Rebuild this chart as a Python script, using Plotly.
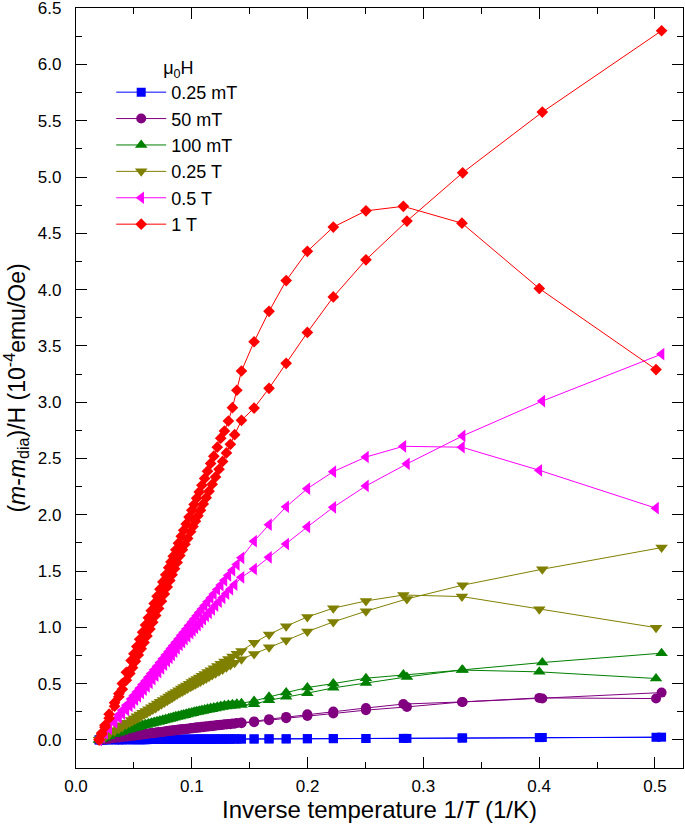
import plotly.graph_objects as go

# ---------------- data (x = inverse temperature 1/T in 1/K) ----------------
# branch A: curve with a maximum ; branch B: monotonic curve
X_A_HIGH = [0.5009, 0.4001, 0.3333, 0.2827, 0.2504, 0.2222, 0.1998, 0.1815, 0.1667, 0.1538]
X_B_HIGH = [0.5057, 0.4027, 0.3339, 0.2858, 0.2504, 0.2222, 0.1998, 0.1815, 0.1667, 0.1538]
X_A_DENSE = [0.1429, 0.1389, 0.1351, 0.1316, 0.1282, 0.1250, 0.1220, 0.1190, 0.1163, 0.1136,
             0.1111, 0.1087, 0.1064, 0.1042, 0.1020, 0.1000, 0.0976, 0.0952, 0.0930, 0.0909,
             0.0885, 0.0862, 0.0840, 0.0820, 0.0800, 0.0775, 0.0750, 0.0725, 0.0700, 0.0675,
             0.0650, 0.0625, 0.0600, 0.0575, 0.0550, 0.0525, 0.0500, 0.0476]
X_B_DENSE = [0.1429, 0.1370, 0.1333, 0.1299, 0.1266, 0.1235, 0.1205, 0.1176, 0.1149, 0.1124,
             0.1099, 0.1075, 0.1053, 0.1031, 0.1010, 0.0990, 0.0964, 0.0941, 0.0919, 0.0897,
             0.0873, 0.0851, 0.0830, 0.0810, 0.0788, 0.0763, 0.0738, 0.0713, 0.0688, 0.0663,
             0.0638, 0.0613, 0.0588, 0.0563, 0.0538, 0.0513, 0.0488, 0.0465]
X_LOW = [0.0435, 0.0400, 0.0370, 0.0333, 0.0286, 0.0250, 0.0222, 0.0200]

FIELDS = ["0.25 mT", "50 mT", "100 mT", "0.25 T", "0.5 T", "1 T"]

# (m - m_dia)/H in 1e-4 emu/Oe
Y_025mT_A = [0.023, 0.020, 0.016, 0.013, 0.012, 0.011, 0.010, 0.009, 0.009, 0.008,
             0.008, 0.008, 0.008, 0.007, 0.007, 0.007, 0.007, 0.007, 0.006, 0.006,
             0.006, 0.006, 0.006, 0.006, 0.005, 0.005, 0.005, 0.005, 0.005, 0.005,
             0.004, 0.004, 0.004, 0.004, 0.004, 0.004, 0.003, 0.003, 0.003, 0.003,
             0.003, 0.003, 0.002, 0.002, 0.002, 0.002, 0.002, 0.002,
             0.002, 0.001, 0.001, 0.001, 0.001, 0.0, 0.0, 0.0]
Y_025mT_B = [0.024, 0.021, 0.017, 0.013, 0.012, 0.011, 0.010, 0.009, 0.009, 0.008,
             0.008, 0.008, 0.007, 0.007, 0.007, 0.007, 0.007, 0.006, 0.006, 0.006,
             0.006, 0.006, 0.006, 0.005, 0.005, 0.005, 0.005, 0.005, 0.005, 0.004,
             0.004, 0.004, 0.004, 0.004, 0.004, 0.003, 0.003, 0.003, 0.003, 0.003,
             0.003, 0.002, 0.002, 0.002, 0.002, 0.002, 0.002, 0.002,
             0.002, 0.001, 0.001, 0.001, 0.001, 0.0, 0.0, 0.0]

Y_50mT_A = [0.367, 0.373, 0.337, 0.318, 0.283, 0.251, 0.228, 0.204, 0.184, 0.164,
            0.154, 0.150, 0.146, 0.142, 0.139, 0.135, 0.132, 0.128, 0.125, 0.122,
            0.119, 0.116, 0.113, 0.111, 0.108, 0.105, 0.102, 0.099, 0.097, 0.094,
            0.091, 0.088, 0.085, 0.083, 0.080, 0.077, 0.073, 0.070, 0.067, 0.063,
            0.060, 0.057, 0.053, 0.050, 0.046, 0.043, 0.039, 0.036,
            0.031, 0.026, 0.022, 0.017, 0.011, 0.006, 0.003, 0.0]
Y_50mT_B = [0.420, 0.367, 0.337, 0.293, 0.264, 0.234, 0.213, 0.192, 0.174, 0.157,
            0.148, 0.143, 0.139, 0.136, 0.132, 0.129, 0.125, 0.122, 0.119, 0.116,
            0.113, 0.110, 0.107, 0.106, 0.103, 0.100, 0.097, 0.094, 0.092, 0.089,
            0.086, 0.083, 0.080, 0.078, 0.076, 0.072, 0.069, 0.066, 0.062, 0.059,
            0.056, 0.052, 0.050, 0.046, 0.043, 0.039, 0.036, 0.032,
            0.029, 0.025, 0.021, 0.016, 0.010, 0.006, 0.003, 0.0]

Y_100mT_A = [0.545, 0.604, 0.620, 0.580, 0.548, 0.500, 0.465, 0.420, 0.382, 0.346,
             0.325, 0.320, 0.316, 0.312, 0.307, 0.301, 0.294, 0.288, 0.282, 0.276,
             0.270, 0.265, 0.259, 0.254, 0.249, 0.244, 0.238, 0.232, 0.226, 0.221,
             0.215, 0.209, 0.203, 0.197, 0.192, 0.186, 0.179, 0.172, 0.166, 0.159,
             0.152, 0.145, 0.138, 0.131, 0.124, 0.116, 0.109, 0.102,
             0.089, 0.077, 0.066, 0.052, 0.034, 0.020, 0.009, 0.0]
Y_100mT_B = [0.770, 0.687, 0.622, 0.559, 0.505, 0.462, 0.415, 0.382, 0.352, 0.317,
             0.310, 0.303, 0.300, 0.296, 0.291, 0.285, 0.279, 0.273, 0.268, 0.262,
             0.257, 0.252, 0.247, 0.242, 0.237, 0.231, 0.225, 0.219, 0.214, 0.208,
             0.202, 0.196, 0.190, 0.185, 0.179, 0.173, 0.166, 0.159, 0.153, 0.146,
             0.140, 0.133, 0.127, 0.120, 0.113, 0.106, 0.100, 0.092,
             0.084, 0.073, 0.063, 0.050, 0.033, 0.019, 0.009, 0.0]

Y_025T_A = [0.997, 1.161, 1.273, 1.287, 1.234, 1.170, 1.092, 1.010, 0.936, 0.863,
            0.790, 0.765, 0.741, 0.718, 0.696, 0.676, 0.656, 0.637, 0.619, 0.602,
            0.586, 0.570, 0.555, 0.541, 0.527, 0.514, 0.499, 0.483, 0.469, 0.456,
            0.441, 0.426, 0.412, 0.399, 0.386, 0.370, 0.354, 0.338, 0.322, 0.305,
            0.289, 0.273, 0.257, 0.241, 0.225, 0.209, 0.193, 0.177,
            0.151, 0.129, 0.109, 0.086, 0.055, 0.032, 0.014, 0.0]
Y_025T_B = [1.708, 1.516, 1.374, 1.252, 1.143, 1.048, 0.962, 0.885, 0.822, 0.762,
            0.717, 0.684, 0.664, 0.645, 0.626, 0.609, 0.591, 0.576, 0.560, 0.546,
            0.532, 0.519, 0.507, 0.493, 0.482, 0.471, 0.456, 0.443, 0.430, 0.418,
            0.403, 0.389, 0.375, 0.362, 0.348, 0.332, 0.316, 0.300, 0.284, 0.269,
            0.254, 0.239, 0.225, 0.211, 0.195, 0.181, 0.167, 0.154,
            0.136, 0.115, 0.097, 0.077, 0.049, 0.028, 0.012, 0.0]

Y_05T_A = [2.058, 2.395, 2.600, 2.608, 2.513, 2.383, 2.232, 2.071, 1.912, 1.765,
           1.617, 1.557, 1.507, 1.462, 1.417, 1.375, 1.336, 1.296, 1.261, 1.226,
           1.193, 1.162, 1.132, 1.103, 1.074, 1.048, 1.017, 0.985, 0.956, 0.929,
           0.897, 0.867, 0.838, 0.812, 0.786, 0.753, 0.721, 0.688, 0.655, 0.622,
           0.590, 0.557, 0.524, 0.491, 0.459, 0.426, 0.393, 0.362,
           0.308, 0.262, 0.223, 0.174, 0.113, 0.066, 0.029, 0.0]
Y_05T_B = [3.427, 3.010, 2.700, 2.452, 2.256, 2.066, 1.892, 1.740, 1.622, 1.518,
           1.444, 1.379, 1.338, 1.300, 1.262, 1.227, 1.193, 1.159, 1.129, 1.101,
           1.072, 1.045, 1.020, 0.995, 0.972, 0.949, 0.920, 0.894, 0.869, 0.843,
           0.812, 0.783, 0.755, 0.729, 0.700, 0.668, 0.635, 0.602, 0.570, 0.539,
           0.507, 0.475, 0.445, 0.417, 0.387, 0.358, 0.329, 0.302,
           0.266, 0.232, 0.198, 0.154, 0.100, 0.058, 0.026, 0.0]

Y_1T_A = [3.290, 4.010, 4.590, 4.740, 4.700, 4.556, 4.340, 4.080, 3.807, 3.537,
          3.277, 3.106, 2.951, 2.833, 2.744, 2.680, 2.600, 2.520, 2.456, 2.387,
          2.323, 2.262, 2.203, 2.147, 2.091, 2.040, 1.979, 1.918, 1.862, 1.808,
          1.747, 1.688, 1.632, 1.581, 1.530, 1.466, 1.403, 1.339, 1.275, 1.211,
          1.148, 1.084, 1.020, 0.956, 0.893, 0.829, 0.765, 0.704,
          0.600, 0.500, 0.410, 0.330, 0.228, 0.130, 0.060, 0.0]
Y_1T_B = [6.300, 5.577, 5.038, 4.609, 4.265, 3.935, 3.620, 3.345, 3.123, 2.948,
          2.839, 2.711, 2.626, 2.549, 2.474, 2.404, 2.336, 2.271, 2.209, 2.152,
          2.096, 2.041, 1.992, 1.942, 1.895, 1.849, 1.790, 1.738, 1.689, 1.637,
          1.576, 1.520, 1.467, 1.416, 1.359, 1.296, 1.232, 1.168, 1.105, 1.045,
          0.984, 0.923, 0.865, 0.810, 0.754, 0.698, 0.641, 0.590,
          0.530, 0.450, 0.383, 0.299, 0.193, 0.113, 0.049, 0.0]

COLORS = ["#0000FF", "#800080", "#008000", "#808000", "#FF00FF", "#FF0000"]
SYMBOLS = ["square", "circle", "triangle-up", "triangle-down", "triangle-left", "diamond"]
SIZES = [9, 10, 11, 11, 11, 9]

X_A = X_A_HIGH + X_A_DENSE + X_LOW
X_B = X_B_HIGH + X_B_DENSE + X_LOW
Y_A = [Y_025mT_A, Y_50mT_A, Y_100mT_A, Y_025T_A, Y_05T_A, Y_1T_A]
Y_B = [Y_025mT_B, Y_50mT_B, Y_100mT_B, Y_025T_B, Y_05T_B, Y_1T_B]

fig = go.Figure()
for i, name in enumerate(FIELDS):
    for j, (xs, ys) in enumerate(((X_A, Y_A[i]), (X_B, Y_B[i]))):
        fig.add_trace(go.Scatter(
            x=xs, y=ys, mode="lines+markers", name=name,
            legendgroup=name, showlegend=(j == 0),
            line=dict(color=COLORS[i], width=1),
            marker=dict(symbol=SYMBOLS[i], size=SIZES[i], color=COLORS[i],
                        line=dict(width=0)),
        ))

FONT = "Liberation Sans, Arial, sans-serif"
axis_common = dict(
    showline=True, linecolor="black", linewidth=1.3, mirror="ticks",
    ticks="inside", ticklen=11, tickwidth=1.2, tickcolor="black",
    showgrid=False, zeroline=False, automargin=False,
    ticklabeloverflow="allow",
    tickfont=dict(family=FONT, size=17, color="black"),
)
fig.update_xaxes(
    range=[0, 0.5242], tickvals=[0, 0.1, 0.2, 0.3, 0.4, 0.5], tickformat=".1f",
    minor=dict(ticks="inside", ticklen=6, tickwidth=1, tickcolor="black",
               tickvals=[0.05, 0.15, 0.25, 0.35, 0.45]),
    ticklabelstandoff=2,
    title=dict(text="Inverse temperature 1/<i>T</i> (1/K)",
               font=dict(family=FONT, size=24, color="black"), standoff=4),
    **axis_common,
)
fig.update_yaxes(
    range=[-0.25, 6.502], tickvals=[0.5 * k for k in range(14)], tickformat=".1f",
    minor=dict(ticks="inside", ticklen=6, tickwidth=1, tickcolor="black",
               tick0=0.25, dtick=0.5),
    ticklabelstandoff=10,
    title=dict(text="(<i>m</i>-<i>m</i><sub>dia</sub>)/H (10<sup>-4</sup>emu/Oe)",
               font=dict(family=FONT, size=23, color="black"), standoff=6),
    **axis_common,
)
fig.update_layout(
    width=685, height=824,
    margin=dict(l=76, r=2, t=8, b=56),
    paper_bgcolor="white", plot_bgcolor="white",
    showlegend=True,
    legend=dict(
        x=0.058, y=0.944, xanchor="left", yanchor="top",
        bgcolor="rgba(0,0,0,0)", borderwidth=0,
        font=dict(family=FONT, size=18, color="black"),
        title=dict(text="\u00a0" * 10 + "μ<sub>0</sub>H",
                   font=dict(family=FONT, size=18, color="black")),
        itemwidth=50, tracegroupgap=0,
    ),
)
fig.write_html("out.html", config={"displayModeBar": False},
               post_script="document.body.style.margin='0px';")
